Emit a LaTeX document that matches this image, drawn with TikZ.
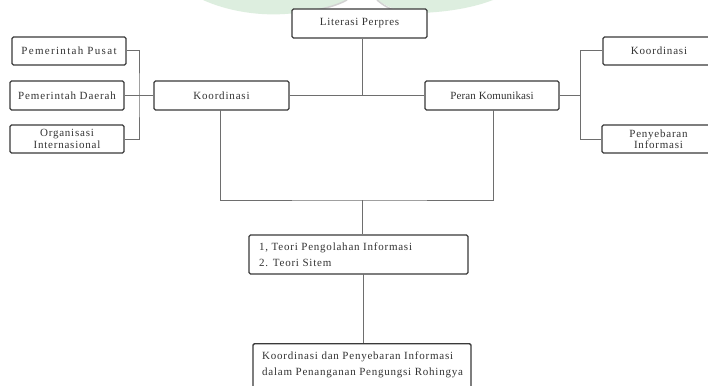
\documentclass[tikz,border=0pt]{standalone}
\usepackage{fontspec}
\setmainfont{Liberation Serif}
\definecolor{boxc}{HTML}{3A3A3A}
\definecolor{linec}{HTML}{6E6E6E}
\definecolor{txtc}{HTML}{333333}
\definecolor{wm}{HTML}{DDEEDF}
\definecolor{wmg}{HTML}{D2D2D2}
\newcommand{\lsp}[1]{\addfontfeatures{LetterSpace=#1}}
\begin{document}
\begin{tikzpicture}[x=1pt,y=-1pt,
  box/.style={draw=boxc, line width=1.3pt, rounded corners=1.5pt, fill=white,
    inner sep=0pt, text=txtc, align=center,
    font=\fontsize{11}{11.5}\selectfont\lsp{7}},
  conn/.style={draw=linec, line width=1pt},
  txt/.style={text=txtc, inner sep=0pt, align=left, font=\fontsize{11}{15.5}\selectfont\lsp{7}}]
\clip (0,0) rectangle (708,385);
\fill[white] (0,0) rectangle (708,385);
% faint watermark
\fill[wm] (203,0) .. controls (225,10) and (255,16) .. (285,14) .. controls (315,12) and (335,6) .. (347,0) -- cycle;
\draw[wmg, line width=1.5pt] (300,13) .. controls (325,9) and (338,5) .. (347,0);
\fill[wm] (377,0) .. controls (390,8) and (400,13) .. (420,13) .. controls (450,12) and (475,7) .. (493,0) -- cycle;
\draw[wmg, line width=1.5pt] (377,0) .. controls (383,5) and (390,10) .. (402,12);
% nodes
\node[box, minimum width=135pt, minimum height=29pt] (lit) at (359.5,23.5) {\lsp{6.5}Literasi Perpres};
\node[box, minimum width=114pt, minimum height=28pt] (pp) at (69,51) {\lsp{12}Pemerintah Pusat};
\node[box, minimum width=114pt, minimum height=29pt] (pd) at (67,95.5) {\lsp{8}Pemerintah Daerah};
\node[box, minimum width=114pt, minimum height=28pt] (oi) at (67,139) {Organisasi\\Internasional};
\node[box, minimum width=135pt, minimum height=29pt] (kl) at (221.5,95.5) {\lsp{7.5}Koordinasi};
\node[box, minimum width=134pt, minimum height=29pt] (pk) at (492,95.5) {\lsp{1}Peran Komunikasi};
\node[box, minimum width=112pt, minimum height=28pt] (kr) at (659,51) {\lsp{7.5}Koordinasi};
\node[box, minimum width=113pt, minimum height=28pt] (pi) at (658.5,139) {Penyebaran\\Informasi};
\node[box, minimum width=219pt, minimum height=39pt] (teori) at (358.5,254.5) {};
\node[txt, anchor=west] (teoritxt) at (259,254.5) {1, Teori Pengolahan Informasi\\2. Teori Sitem};
\node[box, minimum width=218pt, minimum height=60pt, anchor=north] (fin) at (362,343) {};
\node[txt, anchor=north west] (fintxt) at (262,352) {Koordinasi dan Penyebaran Informasi\\dalam Penanganan Pengungsi Rohingya};
% junction coordinates
\coordinate (jt) at (362,95.5);
\coordinate (jl) at (139,95.5);
\coordinate (jr) at (580,95.5);
\coordinate (jb) at (362,200);
% connectors
\draw[conn] (jt |- lit.south) -- (jt);
\draw[conn] (kl.east) -- (pk.west);
\draw[conn] (pp.east) -| (jl) |- (oi.east);
\draw[conn] (pd.east) -- (kl.west);
\draw[conn] (kr.west) -| (jr) |- (pi.west);
\draw[conn] (pk.east) -- (jr);
\draw[conn] (220,110) |- (jb) -| (493,110);
\draw[conn] (jb) -- (jb |- teori.north);
\draw[conn] (363,274) -- (363,343);
\end{tikzpicture}
\end{document}
